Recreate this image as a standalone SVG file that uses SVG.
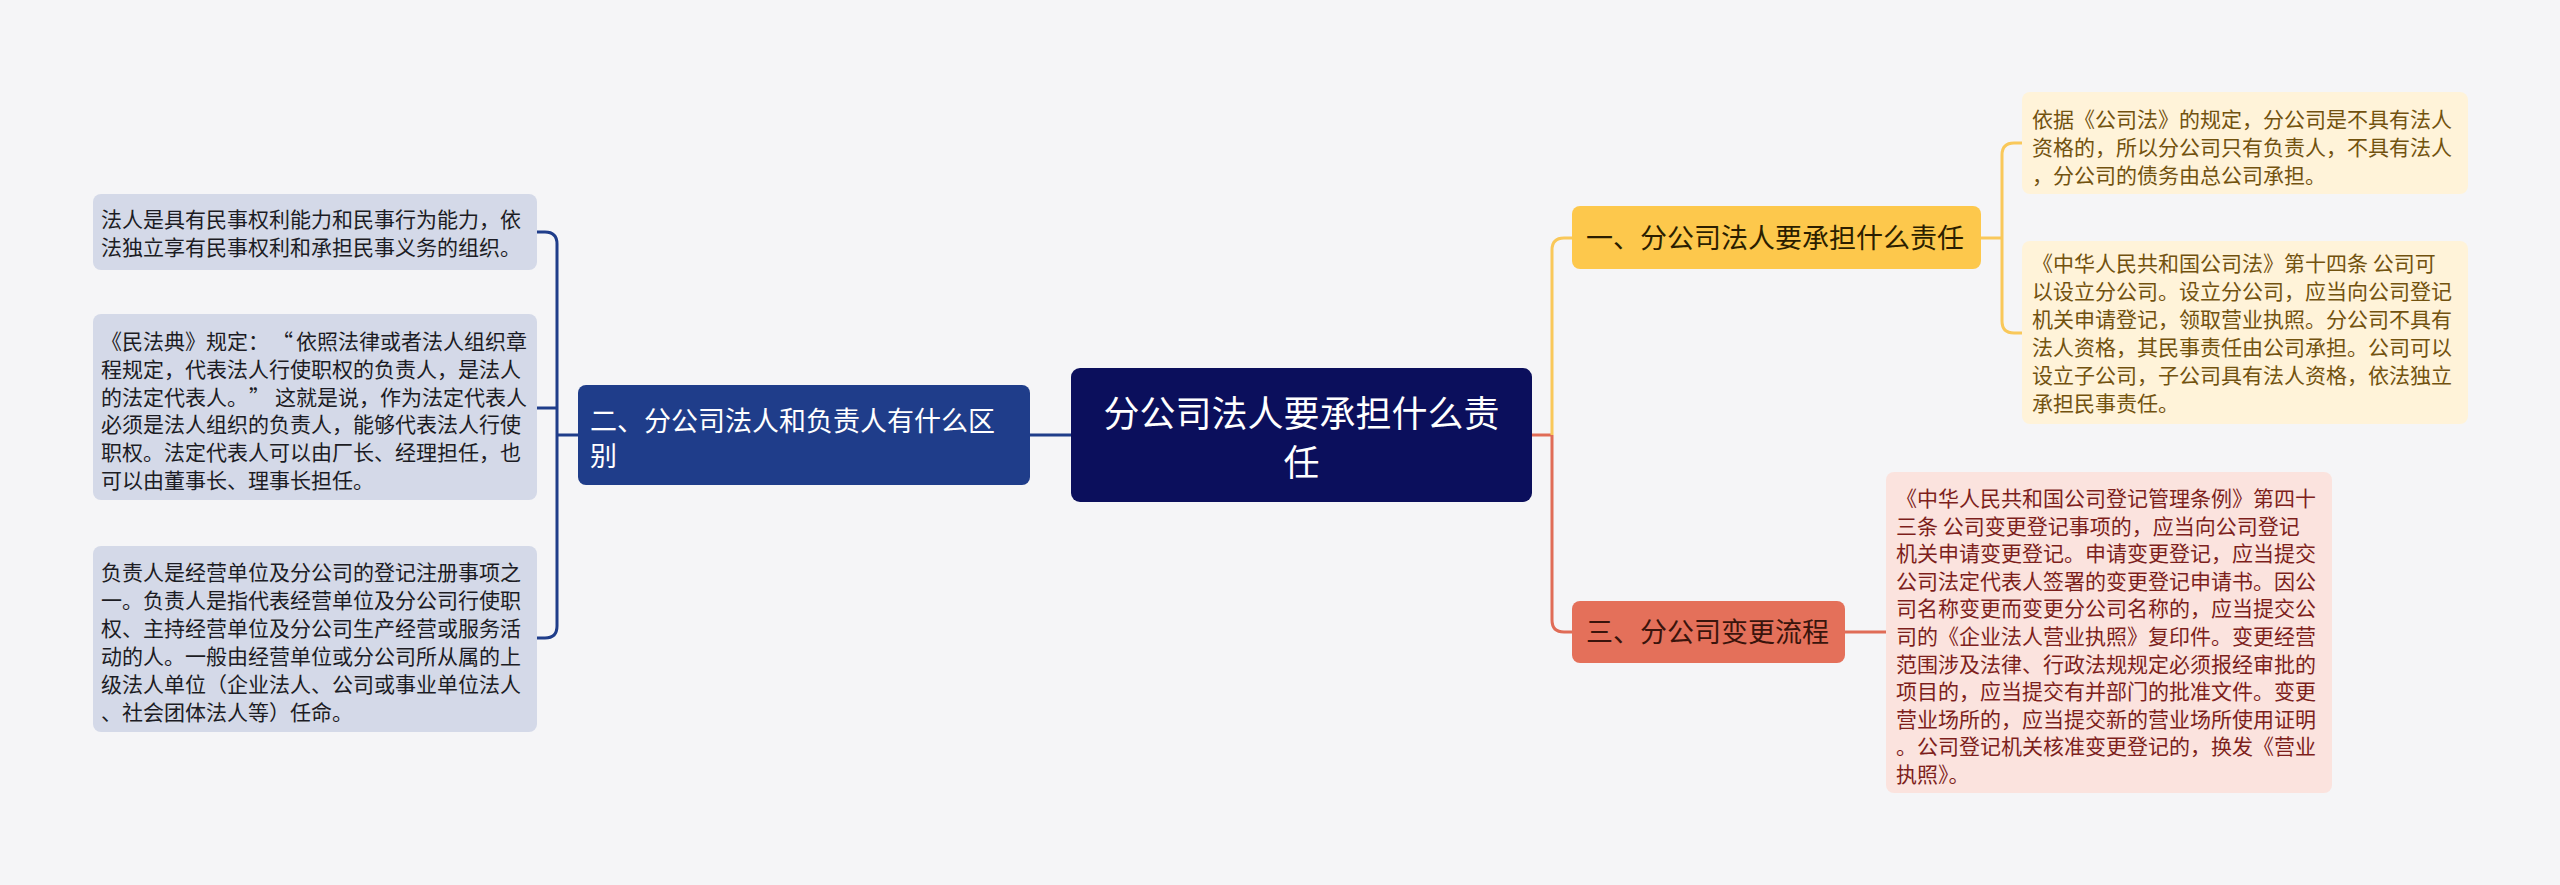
<svg xmlns="http://www.w3.org/2000/svg" width="2560" height="885" viewBox="0 0 2560 885">
<style>
text{font-family:"Noto Sans CJK SC","Noto Sans",sans-serif;}
.leafL rect{fill:#d4d9e8;}
.leafL text{font-size:21px;fill:#1c1c24;}
.leafA rect{fill:#fff3d9;}
.leafA text{font-size:21px;fill:#72520f;}
.leafC rect{fill:#fbe3de;}
.leafC text{font-size:21px;fill:#7d1f1c;}
.navy{stroke:#1f3d8a;}
.gold{stroke:#f9c85a;}
.red{stroke:#e06c57;}
#connectors path{fill:none;stroke-width:3;}
</style>
<rect width="2560" height="885" fill="#f5f5f7"/>
<g id="connectors">
<path class="navy" d="M1071 435 H1030"/>
<path class="navy" d="M578 435 H557"/>
<path class="navy" d="M557 435 V244 Q557 232 545 232 H537"/>
<path class="navy" d="M557 435 V626 Q557 638 545 638 H537"/>
<path class="navy" d="M557 408 H537"/>
<path class="red" d="M1532 435 H1552"/>
<path class="gold" d="M1552 435 V250 Q1552 238 1564 238 H1572"/>
<path class="red" d="M1552 435 V620 Q1552 632 1564 632 H1572"/>
<path class="gold" d="M1981 238 H2002"/>
<path class="gold" d="M2002 238 V155 Q2002 143 2014 143 H2022"/>
<path class="gold" d="M2002 238 V321 Q2002 333 2014 333 H2022"/>
<path class="red" d="M1845 632 H1886"/>
</g>
<g id="root">
<rect x="1071" y="368" width="461" height="134" rx="9" fill="#0b0f5c"/>
<text x="1301.5" y="427" font-size="36" fill="#ffffff" text-anchor="middle">分公司法人要承担什么责</text>
<text x="1301.5" y="476" font-size="36" fill="#ffffff" text-anchor="middle">任</text>
</g>
<g id="n2">
<rect x="578" y="385" width="452" height="100" rx="8" fill="#1f3d8a"/>
<text x="590" y="431" font-size="27" fill="#ffffff">二、分公司法人和负责人有什么区</text>
<text x="590" y="466" font-size="27" fill="#ffffff">别</text>
</g>
<g id="n1">
<rect x="1572" y="206" width="409" height="63" rx="8" fill="#fdc84c"/>
<text x="1586" y="248" font-size="27" fill="#2b1e00">一、分公司法人要承担什么责任</text>
</g>
<g id="n3">
<rect x="1572" y="601" width="273" height="62" rx="8" fill="#e4705a"/>
<text x="1586" y="642" font-size="27" fill="#3a140c">三、分公司变更流程</text>
</g>
<g id="l2a" class="leafL">
<rect x="93" y="194" width="444" height="76" rx="8"/>
<text x="101" y="227">法人是具有民事权利能力和民事行为能力，依</text>
<text x="101" y="254.5">法独立享有民事权利和承担民事义务的组织。</text>
</g>
<g id="l2b" class="leafL">
<rect x="93" y="314" width="444" height="186" rx="8"/>
<text x="101" y="349">《民法典》规定：<tspan x="272">“</tspan><tspan x="296">依照法律或者法人组织章</tspan></text>
<text x="101" y="376.8">程规定，代表法人行使职权的负责人，是法人</text>
<text x="101" y="404.6">的法定代表人。<tspan x="249">”</tspan><tspan x="275">这就是说，作为法定代表人</tspan></text>
<text x="101" y="432.4">必须是法人组织的负责人，能够代表法人行使</text>
<text x="101" y="460.2">职权。法定代表人可以由厂长、经理担任，也</text>
<text x="101" y="488">可以由董事长、理事长担任。</text>
</g>
<g id="l2c" class="leafL">
<rect x="93" y="546" width="444" height="186" rx="8"/>
<text x="101" y="580">负责人是经营单位及分公司的登记注册事项之</text>
<text x="101" y="608">一。负责人是指代表经营单位及分公司行使职</text>
<text x="101" y="636">权、主持经营单位及分公司生产经营或服务活</text>
<text x="101" y="664">动的人。一般由经营单位或分公司所从属的上</text>
<text x="101" y="692">级法人单位（企业法人、公司或事业单位法人</text>
<text x="101" y="720">、社会团体法人等）任命。</text>
</g>
<g id="l1a" class="leafA">
<rect x="2022" y="92" width="446" height="102" rx="8"/>
<text x="2032" y="127">依据《公司法》的规定，分公司是不具有法人</text>
<text x="2032" y="155">资格的，所以分公司只有负责人，不具有法人</text>
<text x="2032" y="182.5">，分公司的债务由总公司承担。</text>
</g>
<g id="l1b" class="leafA">
<rect x="2022" y="241" width="446" height="183" rx="8"/>
<text x="2032" y="271">《中华人民共和国公司法》第十四条 公司可</text>
<text x="2032" y="299">以设立分公司。设立分公司，应当向公司登记</text>
<text x="2032" y="327">机关申请登记，领取营业执照。分公司不具有</text>
<text x="2032" y="355">法人资格，其民事责任由公司承担。公司可以</text>
<text x="2032" y="383">设立子公司，子公司具有法人资格，依法独立</text>
<text x="2032" y="411">承担民事责任。</text>
</g>
<g id="l3a" class="leafC">
<rect x="1886" y="472" width="446" height="321" rx="8"/>
<text x="1896" y="506">《中华人民共和国公司登记管理条例》第四十</text>
<text x="1896" y="533.6">三条 公司变更登记事项的，应当向公司登记</text>
<text x="1896" y="561.2">机关申请变更登记。申请变更登记，应当提交</text>
<text x="1896" y="588.8">公司法定代表人签署的变更登记申请书。因公</text>
<text x="1896" y="616.4">司名称变更而变更分公司名称的，应当提交公</text>
<text x="1896" y="644">司的《企业法人营业执照》复印件。变更经营</text>
<text x="1896" y="671.6">范围涉及法律、行政法规规定必须报经审批的</text>
<text x="1896" y="699.2">项目的，应当提交有并部门的批准文件。变更</text>
<text x="1896" y="726.8">营业场所的，应当提交新的营业场所使用证明</text>
<text x="1896" y="754.4">。公司登记机关核准变更登记的，换发《营业</text>
<text x="1896" y="782">执照》。</text>
</g>
</svg>
